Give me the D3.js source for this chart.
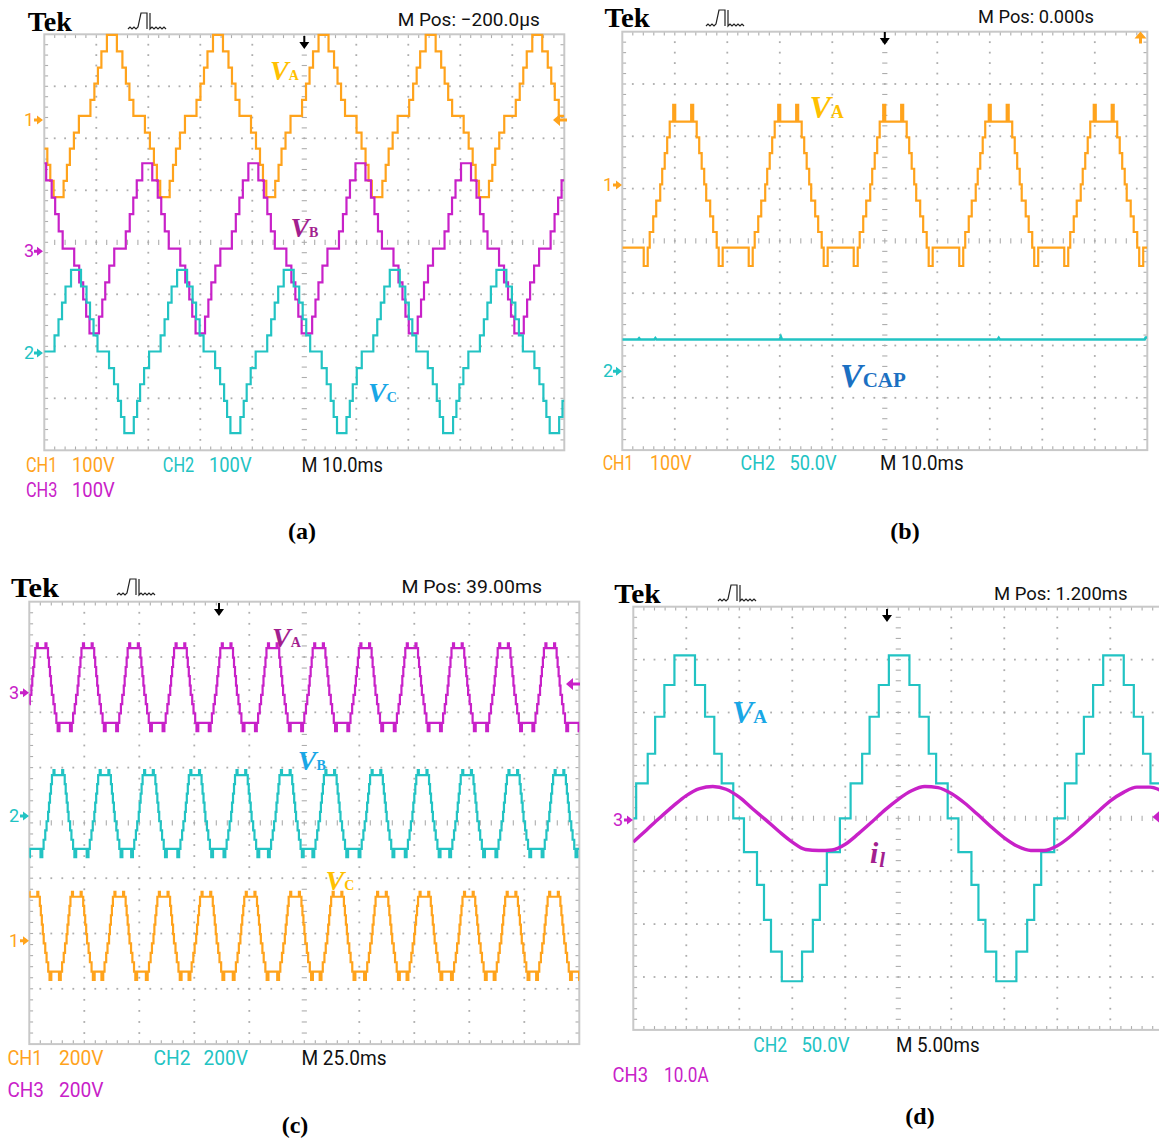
<!DOCTYPE html>
<html>
<head>
<meta charset="utf-8">
<script src="https://cdn.jsdelivr.net/npm/d3@7"></script>
<style>
  body { margin: 0; background: #fff; }
  svg { display: block; }
</style>
</head>
<body>
<svg id="fig" width="1159" height="1141"></svg>
<script>
// ================= DATA =================
// Times in ms from the left edge of each screen, amplitudes in V (or A).

// ---- (a) three phase 11-level staircases, 10 ms/div, 100 V/div ----
const aCrestCH1 = [-7.5, 13.0, 33.4, 53.7, 74.3, 94.8];          // V_A crest centres
const aCrestCH3 = [-0.6, 19.8, 40.2, 60.8, 81.1, 101.5];         // V_B crest centres
const aCrestCH2 = [-14.4, 6.1, 26.5, 47.0, 67.4, 87.9, 108.3];   // V_C crest centres
const aStepEdges = [0.96, 2.02, 2.69, 3.37, 4.13, 6.35, 7.31, 8.08, 8.65, 9.29]; // ms after crest
const aLevelsCH1 = [164, 132, 101, 70, 39, 8, -24, -55, -86, -117, -148];
const aLevelsCH3 = [169, 136, 103, 71, 38, 5, -28, -60, -93, -126, -158];
const aLevelsCH2 = [160, 128, 97, 65, 34, 3, -29, -60, -92, -123, -154];
const aGroundDiv = { CH1: 2.35, CH2: -2.13, CH3: -0.17 };

// ---- (b) V_A and capacitor voltage, 10 ms/div ----
const bPulseCH1 = [-8.4, 11.6, 31.6, 51.6, 71.7, 91.7];
const bStepEdges = [2.57, 3.05, 3.52, 4.00, 4.38, 5.14, 5.71, 6.38];
const bLevelsCH1 = [121, 91, 61, 31, 1, -30, -60, -90, -120];
const bSpikeTop = { from: 1.52, to: 1.90, value: 153 };
const bDipBottom = { from: 6.76, to: 7.52, value: -155 };
const bGroundDiv = { CH1: 1.07, CH2: -2.49 };
const bVcapTime = [0, 3.0, 3.2, 3.4, 6.1, 6.3, 6.5, 30.0, 30.2, 30.4, 71.5, 71.7, 71.9, 99.5, 99.7, 100];
const bVcap     = [30.3, 30.3, 31.4, 30.3, 30.3, 31.6, 30.3, 30.3, 33.0, 30.3, 30.3, 31.8, 30.3, 30.3, 32.2, 32.2];

// ---- (c) 9-level phase voltages, 25 ms/div, 200 V/div ----
const cPulseCH3 = [-15.4, 5.6, 26.6, 47.6, 68.7, 89.7, 110.7, 131.7, 152.7, 173.8, 194.8, 215.8, 236.8, 257.8];
const cPulseCH2 = [-7.8, 13.2, 34.2, 54.4, 75.4, 96.4, 116.6, 136.8, 157.8, 178.8, 199.0, 220.0, 241.0, 262.0];
const cPulseCH1 = [1.9, 21.6, 40.9, 61.1, 80.5, 100.6, 120.8, 140.1, 160.3, 179.6, 199.8, 219.2, 238.5, 258.0];
const cStepEdges = [2.90, 3.35, 3.80, 4.25, 4.65, 5.35, 5.95, 6.70];
const cLevelsCH3 = [161, 127, 93, 60, 26, -8, -41, -75, -109];
const cLevelsCH2 = [148, 115, 81, 48, 15, -19, -52, -86, -119];
const cLevelsCH1 = [159, 126, 92, 58, 24, -10, -44, -78, -112];
const cSpike = [{ from: 1.75, to: 2.2, dv: 18 }, { from: 7.3, to: 8.1, dv: -30 }];
const cGroundDiv = { CH1: -2.13, CH2: 0.125, CH3: 2.354 };

// ---- (d) V_A (50 V/div) and load current (10 A/div), 5 ms/div ----
const dCrestCH2 = [-15.4, 4.85, 25.08, 45.3, 65.5];
const dStepEdges = [0.97, 1.92, 2.79, 3.49, 4.58, 5.59, 6.82, 7.48, 8.14, 9.16];
const dLevelsCH2 = [154, 126, 96, 61, 33, 0, -32, -63, -96, -126, -154];
const dCurrentTime = [0, 1.25, 2.5, 3.75, 5.0, 6.25, 7.5, 8.75, 10.0, 11.25, 12.5, 13.75, 15.0, 16.25, 17.5,
  18.75, 20.0, 21.25, 22.5, 23.75, 25.0, 26.25, 27.5, 28.75, 30.0, 31.25, 32.5, 33.75, 35.0, 36.25, 37.5,
  38.75, 40.0, 41.25, 42.5, 43.75, 45.0, 46.25, 47.5, 48.75, 50.0];
const dCurrent = [-4.2, -1.9, 0.4, 2.6, 4.6, 5.9, 6.3, 5.8, 4.3, 2.1, 0.0, -2.2, -4.2, -5.6, -5.8,
  -5.7, -4.6, -2.6, -0.4, 1.9, 3.9, 5.5, 6.3, 6.1, 5.0, 3.2, 1.0, -1.3, -3.4, -5.0, -5.8,
  -5.8, -4.9, -3.1, -0.9, 1.4, 3.6, 5.2, 6.2, 6.2, 5.3];
const dGroundDiv = { CH2: 0, CH3: -0.03 };

// Screen annotations
const headerPos = { a: 'M Pos: \u2212200.0\u00b5s', b: 'M Pos: 0.000s', c: 'M Pos: 39.00ms', d: 'M Pos: 1.200ms' };
const scaleText = {
  a: [['CH1', '100V'], ['CH2', '100V'], ['CH3', '100V'], 'M 10.0ms'],
  b: [['CH1', '100V'], ['CH2', '50.0V'], null, 'M 10.0ms'],
  c: [['CH1', '200V'], ['CH2', '200V'], ['CH3', '200V'], 'M 25.0ms'],
  d: [null, ['CH2', '50.0V'], ['CH3', '10.0A'], 'M 5.00ms']
};
const captions = ['(a)', '(b)', '(c)', '(d)'];

// ================= STYLE / LAYOUT =================
const ORANGE = '#FFA31C', CYAN = '#22C3C3', MAGENTA = '#C821C8';
const GOLD = '#FFC000', PURPLE = '#A31F8F', SKY = '#19A7E6', BLUE = '#1B70C2';
const GRID = '#ADADAD', FRAME = '#C8C8C8';
const SCOPE_FONT = "'Liberation Sans Narrow', 'Arial Narrow', 'Roboto', 'DejaVu Sans Condensed', sans-serif";
const SERIF = "'Liberation Serif', 'Times New Roman', serif";

const screens = {
  a: { x0: 44.3, y0: 34.3, dx: 52.0, dy: 52.0, msPerDiv: 10 },
  b: { x0: 622.3, y0: 31.7, dx: 52.5, dy: 52.3, msPerDiv: 10 },
  c: { x0: 29.3, y0: 601.7, dx: 55.0, dy: 55.3, msPerDiv: 25 },
  d: { x0: 633.3, y0: 606.7, dx: 53.0, dy: 52.9, msPerDiv: 5 }
};

const svg = d3.select('#fig');

// ---------- helpers ----------
function setupScreen(key) {
  const s = screens[key];
  s.w = 10 * s.dx; s.h = 8 * s.dy;
  s.x = d3.scaleLinear().domain([0, 10 * s.msPerDiv]).range([s.x0, s.x0 + s.w]);
  s.g = svg.append('g').attr('class', 'screen-' + key);
  const clipId = 'clip-' + key;
  svg.append('clipPath').attr('id', clipId)
    .append('rect').attr('x', s.x0).attr('y', s.y0 - 1).attr('width', s.w).attr('height', s.h + 2);
  s.clip = 'url(#' + clipId + ')';
  return s;
}

function channelScale(s, perDiv, groundDiv) {
  return d3.scaleLinear()
    .domain([(-4 - groundDiv) * perDiv, (4 - groundDiv) * perDiv])
    .range([s.y0 + s.h, s.y0]);
}

function drawGrid(s) {
  const g = s.g.append('g');
  const gx = d3.scaleLinear().domain([0, 10]).range([s.x0, s.x0 + s.w]);
  const gy = d3.scaleLinear().domain([0, 8]).range([s.y0, s.y0 + s.h]);
  const fx = d3.range(0, 51).map(i => i / 5);
  const fy = d3.range(0, 41).map(i => i / 5);
  const dots = [];
  [1, 2, 3, 4, 6, 7, 8, 9].forEach(i => fy.forEach(f => { if (f > 0 && f < 8) dots.push([gx(i), gy(f)]); }));
  [1, 2, 3, 5, 6, 7].forEach(j => fx.forEach(f => { if (f > 0 && f < 10) dots.push([gx(f), gy(j)]); }));
  g.selectAll('rect.dot').data(dots).join('rect').attr('class', 'dot')
    .attr('x', d => d[0] - 0.9).attr('y', d => d[1] - 0.9)
    .attr('width', 1.8).attr('height', 1.8).attr('fill', GRID);
  const segs = [];
  fy.forEach(f => { if (f > 0 && f < 8) segs.push([gx(5) - 2.6, gy(f), gx(5) + 2.6, gy(f)]); });
  fx.forEach(f => { if (f > 0 && f < 10) segs.push([gx(f), gy(4) - 2.6, gx(f), gy(4) + 2.6]); });
  fx.forEach(f => {
    if (f > 0 && f < 10) {
      segs.push([gx(f), s.y0, gx(f), s.y0 + 3.8]);
      segs.push([gx(f), s.y0 + s.h - 3.8, gx(f), s.y0 + s.h]);
    }
  });
  fy.forEach(f => {
    if (f > 0 && f < 8) {
      segs.push([s.x0, gy(f), s.x0 + 3.8, gy(f)]);
      segs.push([s.x0 + s.w - 3.8, gy(f), s.x0 + s.w, gy(f)]);
    }
  });
  g.selectAll('line.tick').data(segs).join('line').attr('class', 'tick')
    .attr('x1', d => d[0]).attr('y1', d => d[1]).attr('x2', d => d[2]).attr('y2', d => d[3])
    .attr('stroke', GRID).attr('stroke-width', 1.1);
  g.append('rect').attr('x', s.x0).attr('y', s.y0).attr('width', s.w).attr('height', s.h)
    .attr('fill', 'none').attr('stroke', FRAME).attr('stroke-width', 2);
}

// piecewise-constant trace built from crest centres, step edges and level list
function stairTrace(centres, edges, levels, extras, t0, t1) {
  const ev = [t0];
  centres.forEach(c => {
    edges.forEach(e => ev.push(c - e, c + e));
    extras.forEach(x => ev.push(c - x.from, c - x.to, c + x.from, c + x.to));
  });
  const valueAt = t => {
    const c = centres.reduce((b, v) => Math.abs(v - t) < Math.abs(b - t) ? v : b, centres[0]);
    const u = Math.abs(t - c);
    for (const x of extras) if (u >= x.from && u < x.to) return x.value;
    let k = 0;
    while (k < edges.length && u >= edges[k]) k++;
    return levels[k];
  };
  const ts = ev.filter(t => t >= t0 && t < t1).sort((a, b) => a - b);
  const pts = ts.map(t => [t, valueAt(t + 1e-6)]);
  pts.push([t1, valueAt(t1 - 1e-6)]);
  return pts;
}

function drawTrace(s, pts, yScale, color, width, curve) {
  const line = d3.line().x(d => s.x(d[0])).y(d => yScale(d[1])).curve(curve || d3.curveStepAfter);
  s.g.append('path').attr('d', line(pts)).attr('fill', 'none')
    .attr('stroke', color).attr('stroke-width', width || 2.2)
    .attr('stroke-linejoin', 'miter').attr('clip-path', s.clip);
}

function scopeText(str, x, y, width, color, size) {
  svg.append('text').attr('x', x).attr('y', y).text(str)
    .attr('font-family', SCOPE_FONT).attr('font-size', size || 21)
    .attr('fill', color).attr('textLength', width).attr('lengthAdjust', 'spacingAndGlyphs');
}

function tekHeader(x, y, w) {
  svg.append('text').attr('x', x).attr('y', y).text('Tek')
    .attr('font-family', SERIF).attr('font-weight', 'bold').attr('font-size', 28)
    .attr('fill', '#000').attr('textLength', w).attr('lengthAdjust', 'spacingAndGlyphs');
}

function triggerIcon(x, y) {          // y = baseline of the icon
  const p = `M${x},${y} l2,-2 l2,2 l2,-2 l2,2 l2,-2 L${x + 13},${y - 16} L${x + 19},${y - 16} L${x + 19},${y}
             M${x + 22},${y - 16} L${x + 22},${y} l2,-2 l2,2 l2,-2 l2,2 l2,-2 l2,2 l2,-2 l2,2`;
  svg.append('path').attr('d', p).attr('fill', 'none').attr('stroke', '#222').attr('stroke-width', 1.2);
}

function downArrow(x, y) {             // y = top of the arrow
  svg.append('path')
    .attr('d', `M${x - 1},${y} h2 v6 h4 l-5,7 l-5,-7 h4 z`)
    .attr('fill', '#000');
}

function groundMarker(label, xText, xTip, y, color) {
  svg.append('text').attr('x', xText).attr('y', y + 6).text(label)
    .attr('font-family', SCOPE_FONT).attr('font-size', 18).attr('fill', color);
  svg.append('path').attr('d', `M${xTip},${y} l-6,-4.5 v3 h-3 v3 h3 v3 z`).attr('fill', color);
}

function levelMarkerLeft(x, y, color) {   // trigger-level arrow on the right edge
  svg.append('path').attr('d', `M${x},${y} l7,-6 v4.5 h7 v3 h-7 v4.5 z`).attr('fill', color);
}

function levelMarkerUp(x, y, color) {
  svg.append('path').attr('d', `M${x},${y} l6,7 h-4.5 v5 h-3 v-5 h-4.5 z`).attr('fill', color);
}

function waveLabel(main, sub, x, y, size, subSize, color, subItalic, subDy) {
  const t = svg.append('text').attr('x', x).attr('y', y).attr('fill', color)
    .attr('font-family', SERIF).attr('font-weight', 'bold');
  t.append('tspan').text(main).attr('font-style', 'italic').attr('font-size', size);
  t.append('tspan').text(sub).attr('font-size', subSize)
    .attr('font-style', subItalic ? 'italic' : 'normal').attr('dy', subDy || 0).attr('dx', subItalic ? 1 : 0);
}

function caption(str, x, y) {
  svg.append('text').attr('x', x).attr('y', y).text(str).attr('text-anchor', 'middle')
    .attr('font-family', SERIF).attr('font-weight', 'bold').attr('font-size', 24).attr('fill', '#000');
}

// ================= (a) =================
{
  const s = setupScreen('a');
  drawGrid(s);
  const y1 = channelScale(s, 100, aGroundDiv.CH1);
  const y2 = channelScale(s, 100, aGroundDiv.CH2);
  const y3 = channelScale(s, 100, aGroundDiv.CH3);
  drawTrace(s, stairTrace(aCrestCH1, aStepEdges, aLevelsCH1, [], 0, 100), y1, ORANGE);
  drawTrace(s, stairTrace(aCrestCH3, aStepEdges, aLevelsCH3, [], 0, 100), y3, MAGENTA);
  drawTrace(s, stairTrace(aCrestCH2, aStepEdges, aLevelsCH2, [], 0, 100), y2, CYAN);
  groundMarker('1', 24, 43, y1(0), ORANGE);
  groundMarker('3', 24, 43, y3(0), MAGENTA);
  groundMarker('2', 24, 43, y2(0), CYAN);
  levelMarkerLeft(553, y1(0), ORANGE);
  downArrow(s.x(50), 36);
  tekHeader(27.7, 30.7, 44.3);
  triggerIcon(128, 29);
  scopeText(headerPos.a, 397.7, 26, 142, '#111', 19);
  scopeText(scaleText.a[0][0], 26, 471.7, 31.4, ORANGE);
  scopeText(scaleText.a[0][1], 72, 471.7, 42.7, ORANGE);
  scopeText(scaleText.a[1][0], 162.8, 471.7, 31.4, CYAN);
  scopeText(scaleText.a[1][1], 209, 471.7, 42.6, CYAN);
  scopeText(scaleText.a[3], 301.5, 471.7, 81.5, '#111');
  scopeText(scaleText.a[2][0], 26, 496.7, 31.4, MAGENTA);
  scopeText(scaleText.a[2][1], 72, 496.7, 42.7, MAGENTA);
  waveLabel('V', 'A', 270, 80, 28, 14, GOLD);
  waveLabel('V', 'B', 290.4, 236.7, 28, 14, PURPLE);
  waveLabel('V', 'C', 368, 401.7, 28, 14, SKY);
  caption(captions[0], 302, 539);
}

// ================= (b) =================
{
  const s = setupScreen('b');
  drawGrid(s);
  const y1 = channelScale(s, 100, bGroundDiv.CH1);
  const y2 = channelScale(s, 50, bGroundDiv.CH2);
  const vcapPts = bVcapTime.map((t, i) => [t, bVcap[i]]);
  drawTrace(s, vcapPts, y2, CYAN, 2.6, d3.curveLinear);
  drawTrace(s, stairTrace(bPulseCH1, bStepEdges, bLevelsCH1, [bSpikeTop, bDipBottom], 0, 100), y1, ORANGE);
  groundMarker('1', 603, 622, y1(0), ORANGE);
  groundMarker('2', 603, 622, y2(0), CYAN);
  levelMarkerUp(1140.5, 31.5, ORANGE);
  downArrow(s.x(50), 32);
  tekHeader(604.5, 26.7, 45.4);
  triggerIcon(706, 26);
  scopeText(headerPos.b, 978, 23.3, 116, '#111', 19);
  scopeText(scaleText.b[0][0], 602.7, 470, 30.8, ORANGE);
  scopeText(scaleText.b[0][1], 650, 470, 41.6, ORANGE);
  scopeText(scaleText.b[1][0], 740.6, 470, 34.4, CYAN);
  scopeText(scaleText.b[1][1], 789.6, 470, 47.1, CYAN);
  scopeText(scaleText.b[3], 880, 470, 83.7, '#111');
  waveLabel('V', 'A', 809.5, 118.3, 32, 18, GOLD);
  waveLabel('V', 'CAP', 840, 386.7, 34, 21, BLUE);
  caption(captions[1], 905, 539);
}

// ================= (c) =================
{
  const s = setupScreen('c');
  drawGrid(s);
  const y1 = channelScale(s, 200, cGroundDiv.CH1);
  const y2 = channelScale(s, 200, cGroundDiv.CH2);
  const y3 = channelScale(s, 200, cGroundDiv.CH3);
  const ex = lv => [
    { from: cSpike[0].from, to: cSpike[0].to, value: lv[0] + cSpike[0].dv },
    { from: cSpike[1].from, to: cSpike[1].to, value: lv[lv.length - 1] + cSpike[1].dv }
  ];
  drawTrace(s, stairTrace(cPulseCH3, cStepEdges, cLevelsCH3, ex(cLevelsCH3), 0, 250), y3, MAGENTA);
  drawTrace(s, stairTrace(cPulseCH2, cStepEdges, cLevelsCH2, ex(cLevelsCH2), 0, 250), y2, CYAN);
  drawTrace(s, stairTrace(cPulseCH1, cStepEdges, cLevelsCH1, ex(cLevelsCH1), 0, 250), y1, ORANGE);
  groundMarker('3', 9, 29, y3(0), MAGENTA);
  groundMarker('2', 9, 29, y2(0), CYAN);
  groundMarker('1', 9, 29, y1(0), ORANGE);
  levelMarkerLeft(566, 684, MAGENTA);
  downArrow(219, 603);
  tekHeader(11, 596.7, 48);
  triggerIcon(117, 595);
  scopeText(headerPos.c, 401.4, 593, 140.6, '#111', 19);
  scopeText(scaleText.c[0][0], 7.4, 1065, 35.1, ORANGE);
  scopeText(scaleText.c[0][1], 59, 1065, 44.6, ORANGE);
  scopeText(scaleText.c[1][0], 153.5, 1065, 37, CYAN);
  scopeText(scaleText.c[1][1], 203.5, 1065, 44.4, CYAN);
  scopeText(scaleText.c[3], 301.5, 1065, 85.1, '#111');
  scopeText(scaleText.c[2][0], 7.4, 1096.7, 36.6, MAGENTA);
  scopeText(scaleText.c[2][1], 59, 1096.7, 44.6, MAGENTA);
  waveLabel('V', 'A', 272, 646.7, 28, 14, PURPLE);
  waveLabel('V', 'B', 297.8, 770, 28, 14, SKY);
  waveLabel('V', 'C', 325.6, 890, 28, 14, GOLD);
  caption(captions[2], 295, 1133);
}

// ================= (d) =================
{
  const s = setupScreen('d');
  drawGrid(s);
  const y2 = channelScale(s, 50, dGroundDiv.CH2);
  const y3 = channelScale(s, 10, dGroundDiv.CH3);
  drawTrace(s, stairTrace(dCrestCH2, dStepEdges, dLevelsCH2, [], 0, 50), y2, CYAN);
  const iPts = dCurrentTime.map((t, i) => [t, dCurrent[i]]);
  drawTrace(s, iPts, y3, MAGENTA, 3.4, d3.curveMonotoneX);
  groundMarker('3', 613, 633, y3(0), MAGENTA);
  levelMarkerLeft(1152.5, y3(0) - 3, MAGENTA);
  downArrow(887, 609);
  tekHeader(614.3, 603.3, 46.3);
  triggerIcon(718, 601);
  scopeText(headerPos.d, 994, 600, 133.6, '#111', 19);
  scopeText(scaleText.d[1][0], 753.3, 1051.7, 33.9, CYAN);
  scopeText(scaleText.d[1][1], 801.4, 1051.7, 48.2, CYAN);
  scopeText(scaleText.d[3], 895.9, 1051.7, 83.8, '#111');
  scopeText(scaleText.d[2][0], 612.5, 1081.7, 35.5, MAGENTA);
  scopeText(scaleText.d[2][1], 664, 1081.7, 44.7, MAGENTA);
  waveLabel('V', 'A', 732, 723.3, 32, 19, SKY);
  waveLabel('i', 'l', 870, 863, 30, 21, PURPLE, true, 4);
  caption(captions[3], 920, 1124);
}
</script>
</body>
</html>
